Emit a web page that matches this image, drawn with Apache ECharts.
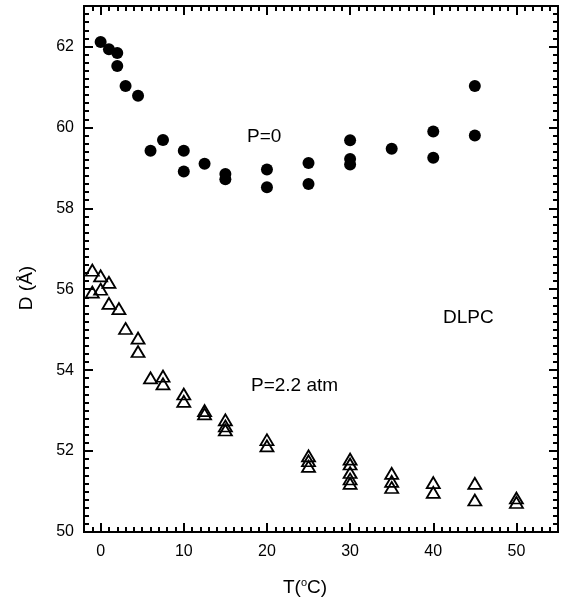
<!DOCTYPE html>
<html>
<head>
<meta charset="utf-8">
<script src="https://cdn.jsdelivr.net/npm/echarts@6/dist/echarts.min.js"></script>
<style>
  html, body { margin: 0; padding: 0; background: #fff; }
  #chart { width: 570px; height: 610px; }
</style>
</head>
<body>
<div id="chart"></div>
<script>
// P=0 (filled circles)
const p0T = [0, 1, 2, 2, 3, 4.5, 6, 7.5, 10, 10, 12.5, 15, 15, 20, 20, 25, 25, 30, 30, 30, 35, 40, 40, 45, 45];
const p0D = [62.11, 61.93, 61.84, 61.52, 61.02, 60.78, 59.42, 59.69, 59.42, 58.91, 59.1, 58.85, 58.72, 58.96, 58.52,
  59.12, 58.6, 59.68, 59.22, 59.08, 59.47, 59.9, 59.25, 61.02, 59.8];
// P=2.2 atm (open triangles)
const p22T = [-1, 0, 1, -1, 0, 1, 2.2, 3, 4.5, 4.5, 6, 7.5, 7.5, 10, 10, 12.5, 12.5, 15, 15, 15, 20, 20,
  25, 25, 25, 30, 30, 30, 30, 30, 35, 35, 35, 40, 40, 45, 45, 50, 50];
const p22D = [56.47, 56.33, 56.17, 55.93, 56.0, 55.65, 55.52, 55.03, 54.79, 54.46, 53.81, 53.85, 53.66, 53.41, 53.23,
  53.0, 52.92, 52.77, 52.62, 52.52, 52.28, 52.13, 51.88, 51.76, 51.62, 51.8, 51.68, 51.47, 51.31, 51.2,
  51.45, 51.25, 51.1, 51.22, 50.98, 51.2, 50.79, 50.84, 50.73];

// tick labels
const xTicks = [0, 10, 20, 30, 40, 50];
const yTicks = [50, 52, 54, 56, 58, 60, 62];
const xRange = [-2, 55];
const yRange = [50, 63];

// minor ticks: every 1 on x, every 0.2 on y
const xMinor = [];
for (let i = xRange[0] + 1; i < xRange[1]; i++) if (i % 10 !== 0) xMinor.push(i);
const yMinor = [];
for (let i = 1; i < 65; i++) if (i % 10 !== 0) yMinor.push(+(50 + i * 0.2).toFixed(1));

const font = "'Liberation Sans', Arial, sans-serif";
const toPts = (xs, ys) => xs.map((x, i) => [x, ys[i]]);

function xAx(pos, major) {
  return {
    type: 'value', position: pos, min: xRange[0], max: xRange[1],
    axisLine: { show: true, onZero: false, lineStyle: { color: '#000', width: 2 } },
    axisTick: { show: true, inside: true, customValues: major ? xTicks : xMinor,
      length: major ? 9 : 5, lineStyle: { color: '#000', width: 2 } },
    axisLabel: major && pos === 'bottom'
      ? { show: true, customValues: xTicks, color: '#000', fontSize: 16, fontFamily: font, margin: 12 }
      : { show: false },
    splitLine: { show: false }
  };
}
function yAx(pos, major) {
  return {
    type: 'value', position: pos, min: yRange[0], max: yRange[1],
    axisLine: { show: true, onZero: false, lineStyle: { color: '#000', width: 2 } },
    axisTick: { show: true, inside: true, customValues: major ? yTicks : yMinor,
      length: major ? 9 : 5, lineStyle: { color: '#000', width: 2 } },
    axisLabel: major && pos === 'left'
      ? { show: true, customValues: yTicks, color: '#000', fontSize: 16, fontFamily: font, margin: 10 }
      : { show: false },
    splitLine: { show: false }
  };
}

const myChart = echarts.init(document.getElementById('chart'));
myChart.setOption({
  animation: false,
  backgroundColor: '#fff',
  grid: { left: 84, right: 12, top: 6, bottom: 78, containLabel: false },
  xAxis: [xAx('bottom', true), xAx('bottom', false), xAx('top', true), xAx('top', false)],
  yAxis: [yAx('left', true), yAx('left', false), yAx('right', true), yAx('right', false)],
  series: [
    {
      name: 'P=0', type: 'scatter', xAxisIndex: 0, yAxisIndex: 0,
      symbol: 'circle', symbolSize: 12,
      itemStyle: { color: '#000', opacity: 1 },
      data: toPts(p0T, p0D)
    },
    {
      name: 'P=2.2 atm', type: 'scatter', xAxisIndex: 0, yAxisIndex: 0,
      symbol: 'triangle', symbolSize: [13, 11],
      itemStyle: { color: 'rgba(0,0,0,0)', borderColor: '#000', borderWidth: 1.8, opacity: 1 },
      data: toPts(p22T, p22D)
    }
  ],
  graphic: [
    { type: 'text', left: 247, top: 127, style: { text: 'P=0', font: '19px ' + font, fill: '#000' } },
    { type: 'text', left: 251, top: 376, style: { text: 'P=2.2 atm', font: '19px ' + font, fill: '#000' } },
    { type: 'text', left: 443, top: 308, style: { text: 'DLPC', font: '19px ' + font, fill: '#000' } },
    {
      type: 'text', left: 283, top: 577,
      style: {
        text: '{a|T(}{s|o}{a|C)}',
        rich: {
          a: { fontSize: 19, fontFamily: font, color: '#000' },
          s: { fontSize: 11, fontFamily: font, color: '#000', verticalAlign: 'top', padding: [0, 0, 10, 0] }
        }
      }
    },
    {
      type: 'text', x: 27, y: 288, rotation: Math.PI / 2,
      style: { text: 'D (Å)', font: '19px ' + font, fill: '#000', align: 'center', verticalAlign: 'middle' }
    }
  ]
});
</script>
</body>
</html>
